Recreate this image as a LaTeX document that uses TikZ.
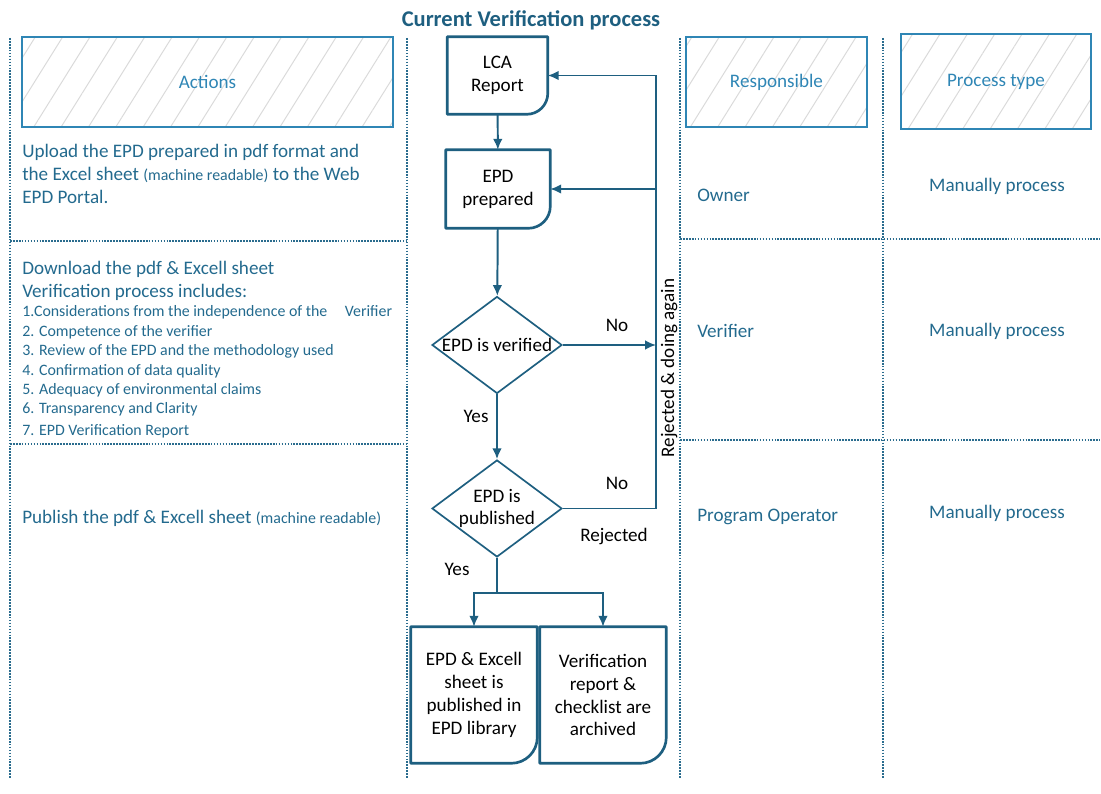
\documentclass[tikz,border=0pt]{standalone}
\usepackage{fontspec}
\setmainfont{Carlito}
\usetikzlibrary{arrows.meta,calc,positioning,shapes.geometric,patterns.meta}
\definecolor{VPInk}{HTML}{1E5F80}
\definecolor{VPText}{HTML}{236A8E}
\definecolor{VPHead}{HTML}{2F86B5}
\definecolor{VPDot}{HTML}{2A6C8E}
\definecolor{VPHatch}{HTML}{DADADA}
\newcommand{\mrnote}{{\fontsize{11.3}{13}\selectfont(machine readable)}}

\begin{document}
\begin{tikzpicture}[x=0.025cm,y=-0.025cm,
      >={Latex[length=2.7mm,width=2.4mm]},
      lane/.style={line width=1.1pt,dash pattern=on 1.2pt off 0.9pt,draw=VPDot},
      head/.style={draw=VPHead,line width=0.9pt,
        pattern={Lines[angle=58,distance=16.5pt,line width=0.7pt]},pattern color=VPHatch,
        text=VPHead,font=\fontsize{13.6}{16}\selectfont},
      body/.style={text=VPText,font=\fontsize{13.6}{16.3}\selectfont,align=left,inner sep=0pt},
      docbox/.style={align=center,inner sep=0pt,font=\fontsize{13.6}{16.3}\selectfont},
      docline/.style={draw=VPInk,line width=1.9pt,line join=round},
      decide/.style={diamond,draw=VPInk,line width=1.2pt,aspect=1.34,inner sep=-1pt,
        minimum width=3.25cm,minimum height=2.425cm,align=center,
        font=\fontsize{13.6}{16.3}\selectfont},
      flow/.style={->,draw=VPInk,line width=1.4pt},
      tag/.style={font=\fontsize{13.6}{16}\selectfont,inner sep=0pt}
    ]
    \path[use as bounding box] (0,0) rectangle (1101,794);
    \node[font=\fontsize{16}{19}\selectfont\bfseries,text=VPInk] (title) at (531,20)
      {Current Verification process};

    % lanes
    \draw[lane] (10,38) -- (10,778);
    \draw[lane] (407,38) -- (407,778);
    \draw[lane] (680,38) -- (680,778);
    \draw[lane] (883,38) -- (883,778);
    \draw[lane] (10,241) -- (407,241);
    \draw[lane] (10,444) -- (407,444);
    \draw[lane] (680,239) -- (1100,239);
    \draw[lane] (680,440) -- (1100,440);

    % column heads
    \node[head,minimum width=9.275cm,minimum height=2.25cm] (acts) at (207.5,82) {Actions};
    \node[head,minimum width=4.525cm,minimum height=2.25cm] (resp) at (776.5,82) {Responsible};
    \node[head,minimum width=4.75cm,minimum height=2.375cm] (ptype) at (996,81.5) {Process type};

    % actions
    \node[body,anchor=west] (upload) at (22,174)
      {Upload the EPD prepared in pdf format and\\
       the Excel sheet \mrnote{} to the Web\\
       EPD Portal.};
    \node[body,anchor=west] (download) at (22,281)
      {Download the pdf \& Excell sheet\\Verification process includes:};
    \node[body,anchor=west,font=\fontsize{11.3}{13.8}\selectfont] (checks) at (22,372)
      {1.Considerations from the independence of the\hspace{1.1em}Verifier\\
       2. Competence of the verifier\\
       3. Review of the EPD and the methodology used\\
       4. Confirmation of data quality\\
       5. Adequacy of environmental claims\\
       6. Transparency and Clarity\\[1.5pt]
       7. EPD Verification Report};
    \node[body,anchor=west] (publish) at (22,518)
      {Publish the pdf \& Excell sheet \mrnote};

    % responsible and process type
    \node[body,anchor=west] (owner) at (697,195) {Owner};
    \node[body,anchor=west] (verifier) at (697,331) {Verifier};
    \node[body,anchor=west] (operator) at (697,517) {Program Operator};
    \node[body] (type1) at (997,186) {Manually process};
    \node[body] (type2) at (997,331) {Manually process};
    \node[body] (type3) at (997,513) {Manually process};

    % flow chart
    \node[docbox,minimum width=2.5cm,minimum height=1.925cm] (lca) at (497.5,75.5) {LCA\\Report};
    \node[docbox,minimum width=2.6cm,minimum height=1.95cm] (prep) at (498,189) {EPD\\prepared};
    \node[decide] (verif) at (497,345) {EPD is verified};
    \node[decide] (publ) at (497,508.5) {EPD is\\published};
    \node[docbox,minimum width=3.15cm,minimum height=3.4cm] (lib) at (474,695)
      {EPD \& Excell\\sheet is\\published in\\EPD library};
    \node[docbox,minimum width=3.15cm,minimum height=3.4cm] (arch) at (603,695)
      {Verification\\report \&\\checklist are\\archived};
    \draw[docline] (lca.north west) -- (lca.north east) -- ([yshift=0.525cm]lca.south east)
      arc[start angle=0,end angle=-90,radius=0.525cm] -- (lca.south west) -- cycle;
    \draw[docline] (prep.north west) -- (prep.north east) -- ([yshift=0.55cm]prep.south east)
      arc[start angle=0,end angle=-90,radius=0.55cm] -- (prep.south west) -- cycle;
    \draw[docline] (lib.north west) -- (lib.north east) -- ([yshift=0.65cm]lib.south east)
      arc[start angle=0,end angle=-90,radius=0.65cm] -- (lib.south west) -- cycle;
    \draw[docline] (arch.north west) -- (arch.north east) -- ([yshift=0.65cm]arch.south east)
      arc[start angle=0,end angle=-90,radius=0.65cm] -- (arch.south west) -- cycle;

    \coordinate (ret) at (656,0);
    \coordinate (split) at (497,593);
    \draw[flow] (lca) -- (prep);
    \draw[flow] (prep) -- (verif);
    \draw[flow] (verif) -- (publ);
    \draw[flow] (verif.east) -- (verif.east -| ret);
    \draw[flow] (publ.east) -- (publ.east -| ret) -- (lca.east -| ret) -- (lca.east);
    \draw[flow] (prep.east -| ret) -- (prep.east);
    \draw[flow] (publ.south) -- (split) -| (lib.north);
    \draw[flow] (split) -| (arch.north);

    \node[tag] (no1) at (617,325) {No};
    \node[tag] (no2) at (617,483) {No};
    \node[tag] (rej) at (614,536) {Rejected};
    \node[tag] (yes1) at (476,416) {Yes};
    \node[tag] (yes2) at (457,569) {Yes};
    \node[tag,rotate=90] (again) at (669,368) {Rejected \& doing again};
  \end{tikzpicture}
\end{document}
